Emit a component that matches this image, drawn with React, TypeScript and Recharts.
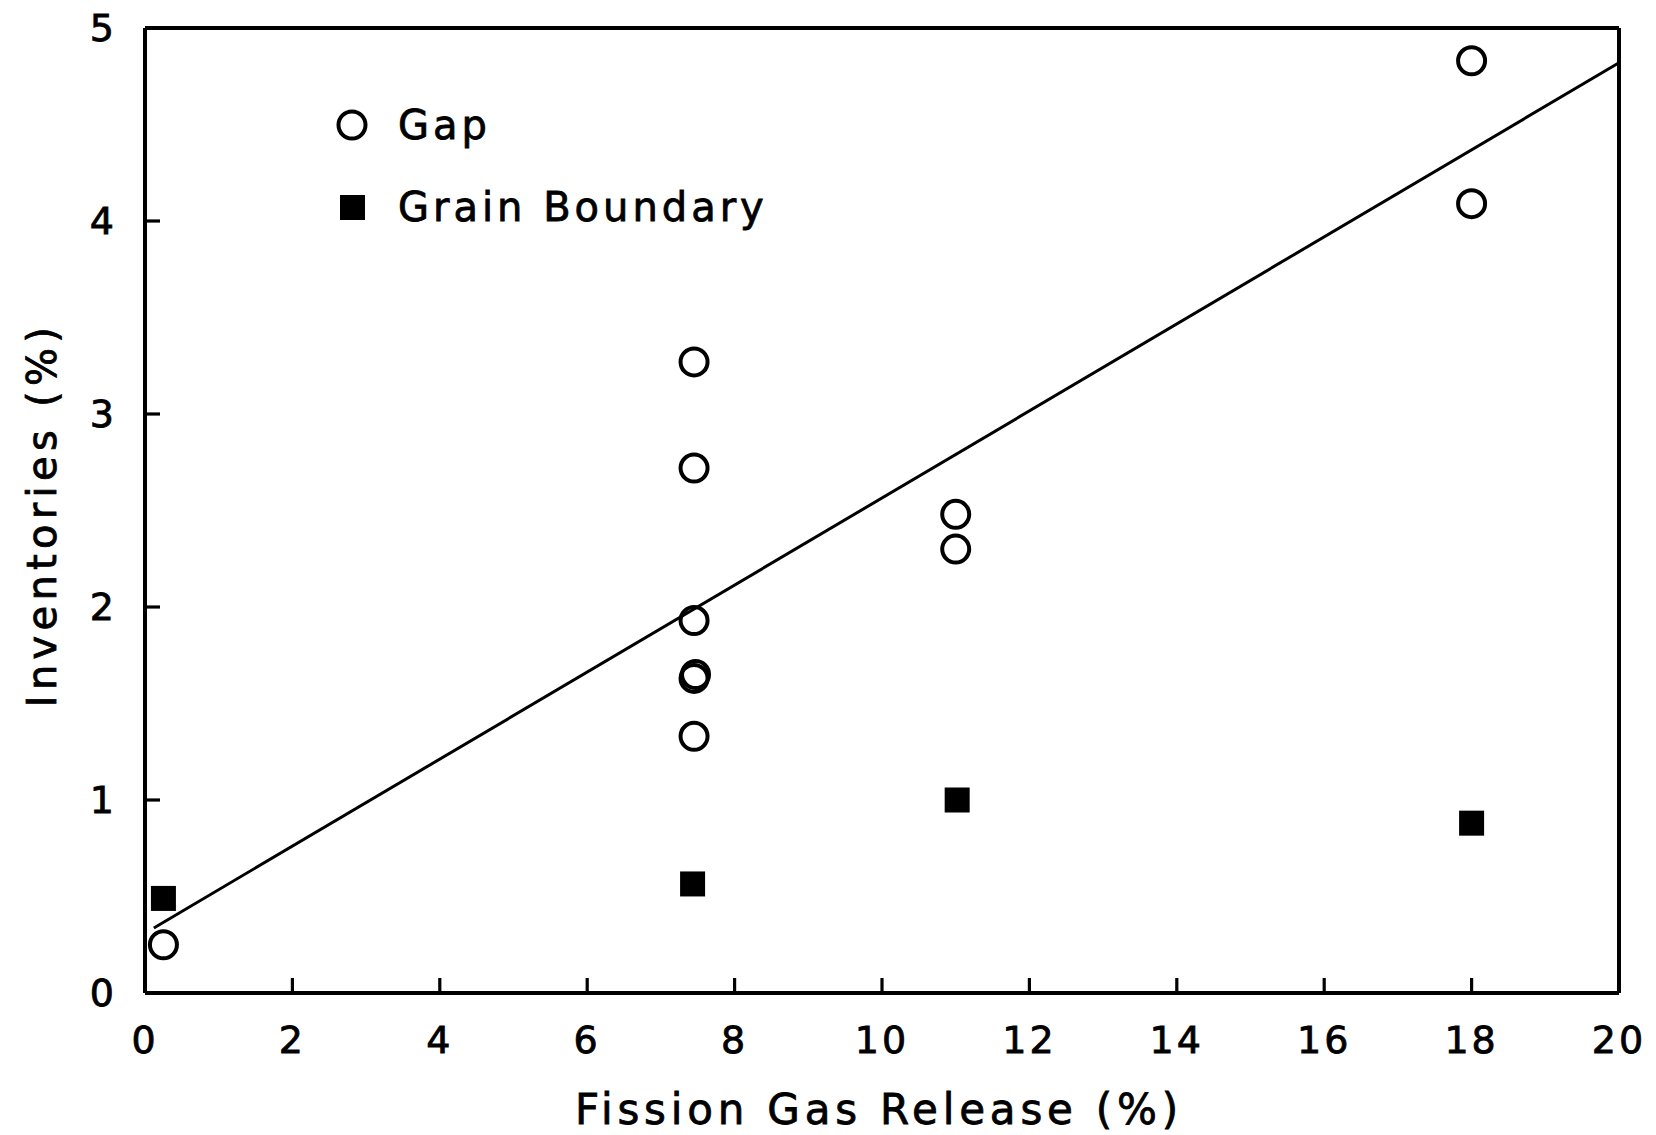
import React from "react";
import { ScatterChart, Scatter, XAxis, YAxis, Legend } from "recharts";

// Fission gas release (%) vs. inventory (%) measurements
const gapRelease = [0.25, 7.45, 7.45, 7.45, 7.45, 7.47, 7.45, 11.0, 11.0, 18.0, 18.0];
const gapInventory = [0.25, 3.27, 2.72, 1.93, 1.63, 1.65, 1.33, 2.48, 2.3, 4.83, 4.09];

const grainRelease = [0.25, 7.43, 11.02, 18.0];
const grainInventory = [0.49, 0.565, 1.0, 0.88];

// Least-squares fit through the gap inventories
const fitRelease = [0.12, 20];
const fitInventory = [0.337, 4.82];

const xTicks = [0, 2, 4, 6, 8, 10, 12, 14, 16, 18, 20];
const yTicks = [0, 1, 2, 3, 4, 5];

const toPoints = (xs: number[], ys: number[]) => xs.map((x, i) => ({ x, y: ys[i] }));
const gapData = toPoints(gapRelease, gapInventory);
const grainData = toPoints(grainRelease, grainInventory);
const fitData = toPoints(fitRelease, fitInventory);

const FONT = "'DejaVu Sans', sans-serif";
const TICK_LEN = 15;
const TICK_W = 3.2;
const FRAME = { stroke: "#000", strokeWidth: 4 };
// plotter-style lettering: a thin outline thickens the glyph strokes
const INK = { fill: "#000", stroke: "#000", strokeWidth: 0.8 };

const BottomTick = (props: any) => {
  const { x, y, payload } = props;
  return (
    <g>
      <line x1={x} y1={y} x2={x} y2={y - TICK_LEN} stroke="#000" strokeWidth={TICK_W} />
      <text
        x={x}
        y={y + 47}
        textAnchor="middle"
        dominantBaseline="central"
        fontFamily={FONT}
        fontSize={38}
        letterSpacing={3}
        {...INK}
      >
        {payload.value}
      </text>
    </g>
  );
};

const TopTick = (props: any) => {
  const { x, y } = props;
  return <line x1={x} y1={y} x2={x} y2={y + TICK_LEN} stroke="#000" strokeWidth={TICK_W} />;
};

const LeftTick = (props: any) => {
  const { x, y, payload } = props;
  return (
    <g>
      <line x1={x} y1={y} x2={x + TICK_LEN} y2={y} stroke="#000" strokeWidth={TICK_W} />
      <text
        x={x - 31}
        y={y}
        textAnchor="end"
        dominantBaseline="central"
        fontFamily={FONT}
        fontSize={38}
        {...INK}
      >
        {payload.value}
      </text>
    </g>
  );
};

const RightTick = (props: any) => {
  const { x, y } = props;
  return <line x1={x} y1={y} x2={x - TICK_LEN} y2={y} stroke="#000" strokeWidth={TICK_W} />;
};

const OpenCircle = (props: any) => (
  <circle cx={props.cx} cy={props.cy} r={13.5} fill="none" stroke="#000" strokeWidth={4} />
);

const FilledSquare = (props: any) => (
  <rect x={props.cx - 12.5} y={props.cy - 12.5} width={25} height={25} fill="#000" />
);

const NoMarker = () => <g />;

const LegendBox = (props: any) => {
  const items = (props.payload || []).filter((p: any) => p.value === "Gap" || p.value === "Grain Boundary");
  return (
    <div
      style={{
        fontFamily: FONT,
        fontSize: 40,
        letterSpacing: 4,
        color: "#000",
        WebkitTextStroke: "0.8px #000",
      }}
    >
      {items.map((p: any) => (
        <div key={p.value} style={{ display: "flex", alignItems: "center", height: 82 }}>
          <svg width={40} height={40} style={{ marginRight: 26 }}>
            {p.value === "Gap" ? (
              <circle cx={20} cy={20} r={13.5} fill="none" stroke="#000" strokeWidth={4} />
            ) : (
              <rect x={8} y={8} width={25} height={25} fill="#000" />
            )}
          </svg>
          <span style={{ lineHeight: 1 }}>{p.value}</span>
        </div>
      ))}
    </div>
  );
};

const XTitle = (props: any) => {
  const vb = props.viewBox || {};
  return (
    <text
      x={vb.x + vb.width / 2 - 3}
      y={vb.y + 116}
      textAnchor="middle"
      dominantBaseline="central"
      fontFamily={FONT}
      fontSize={42}
      letterSpacing={4.8}
      {...INK}
    >
      Fission Gas Release (%)
    </text>
  );
};

const YTitle = (props: any) => {
  const vb = props.viewBox || {};
  const cx = vb.x - 102;
  const cy = vb.y + vb.height / 2 + 4;
  return (
    <text
      x={cx}
      y={cy}
      transform={`rotate(-90, ${cx}, ${cy})`}
      textAnchor="middle"
      dominantBaseline="central"
      fontFamily={FONT}
      fontSize={40}
      letterSpacing={5.3}
      {...INK}
    >
      Inventories (%)
    </text>
  );
};

export default function App() {
  return (
    <div style={{ width: 1640, height: 1135, marginTop: -8, background: "#fff" }}>
      <ScatterChart width={1640} height={1135} margin={{ top: 27, right: 28, bottom: 141, left: 136 }}>
        <XAxis
          xAxisId="bottom"
          type="number"
          dataKey="x"
          domain={[0, 20]}
          ticks={xTicks}
          interval={0}
          height={1}
          tickSize={0}
          tickMargin={0}
          tickLine={false}
          axisLine={FRAME}
          tick={<BottomTick />}
          label={XTitle}
        />
        <XAxis
          xAxisId="top"
          orientation="top"
          type="number"
          dataKey="x"
          domain={[0, 20]}
          ticks={xTicks}
          interval={0}
          height={1}
          tickSize={0}
          tickMargin={0}
          tickLine={false}
          axisLine={FRAME}
          tick={<TopTick />}
        />
        <YAxis
          yAxisId="left"
          type="number"
          dataKey="y"
          domain={[0, 5]}
          ticks={yTicks}
          interval={0}
          width={1}
          tickSize={0}
          tickMargin={0}
          tickLine={false}
          axisLine={FRAME}
          tick={<LeftTick />}
          label={YTitle}
        />
        <YAxis
          yAxisId="right"
          orientation="right"
          type="number"
          dataKey="y"
          domain={[0, 5]}
          ticks={yTicks}
          interval={0}
          width={1}
          tickSize={0}
          tickMargin={0}
          tickLine={false}
          axisLine={FRAME}
          tick={<RightTick />}
        />
        <Legend
          layout="vertical"
          align="center"
          verticalAlign="middle"
          content={<LegendBox />}
          wrapperStyle={{ left: 324, top: 84, width: 520 }}
        />
        <Scatter
          name="fit"
          data={fitData}
          xAxisId="bottom"
          yAxisId="left"
          line={{ stroke: "#000", strokeWidth: 3 }}
          shape={NoMarker}
          legendType="none"
          isAnimationActive={false}
        />
        <Scatter
          name="Gap"
          data={gapData}
          xAxisId="bottom"
          yAxisId="left"
          shape={OpenCircle}
          isAnimationActive={false}
        />
        <Scatter
          name="Grain Boundary"
          data={grainData}
          xAxisId="bottom"
          yAxisId="left"
          shape={FilledSquare}
          isAnimationActive={false}
        />
      </ScatterChart>
    </div>
  );
}
